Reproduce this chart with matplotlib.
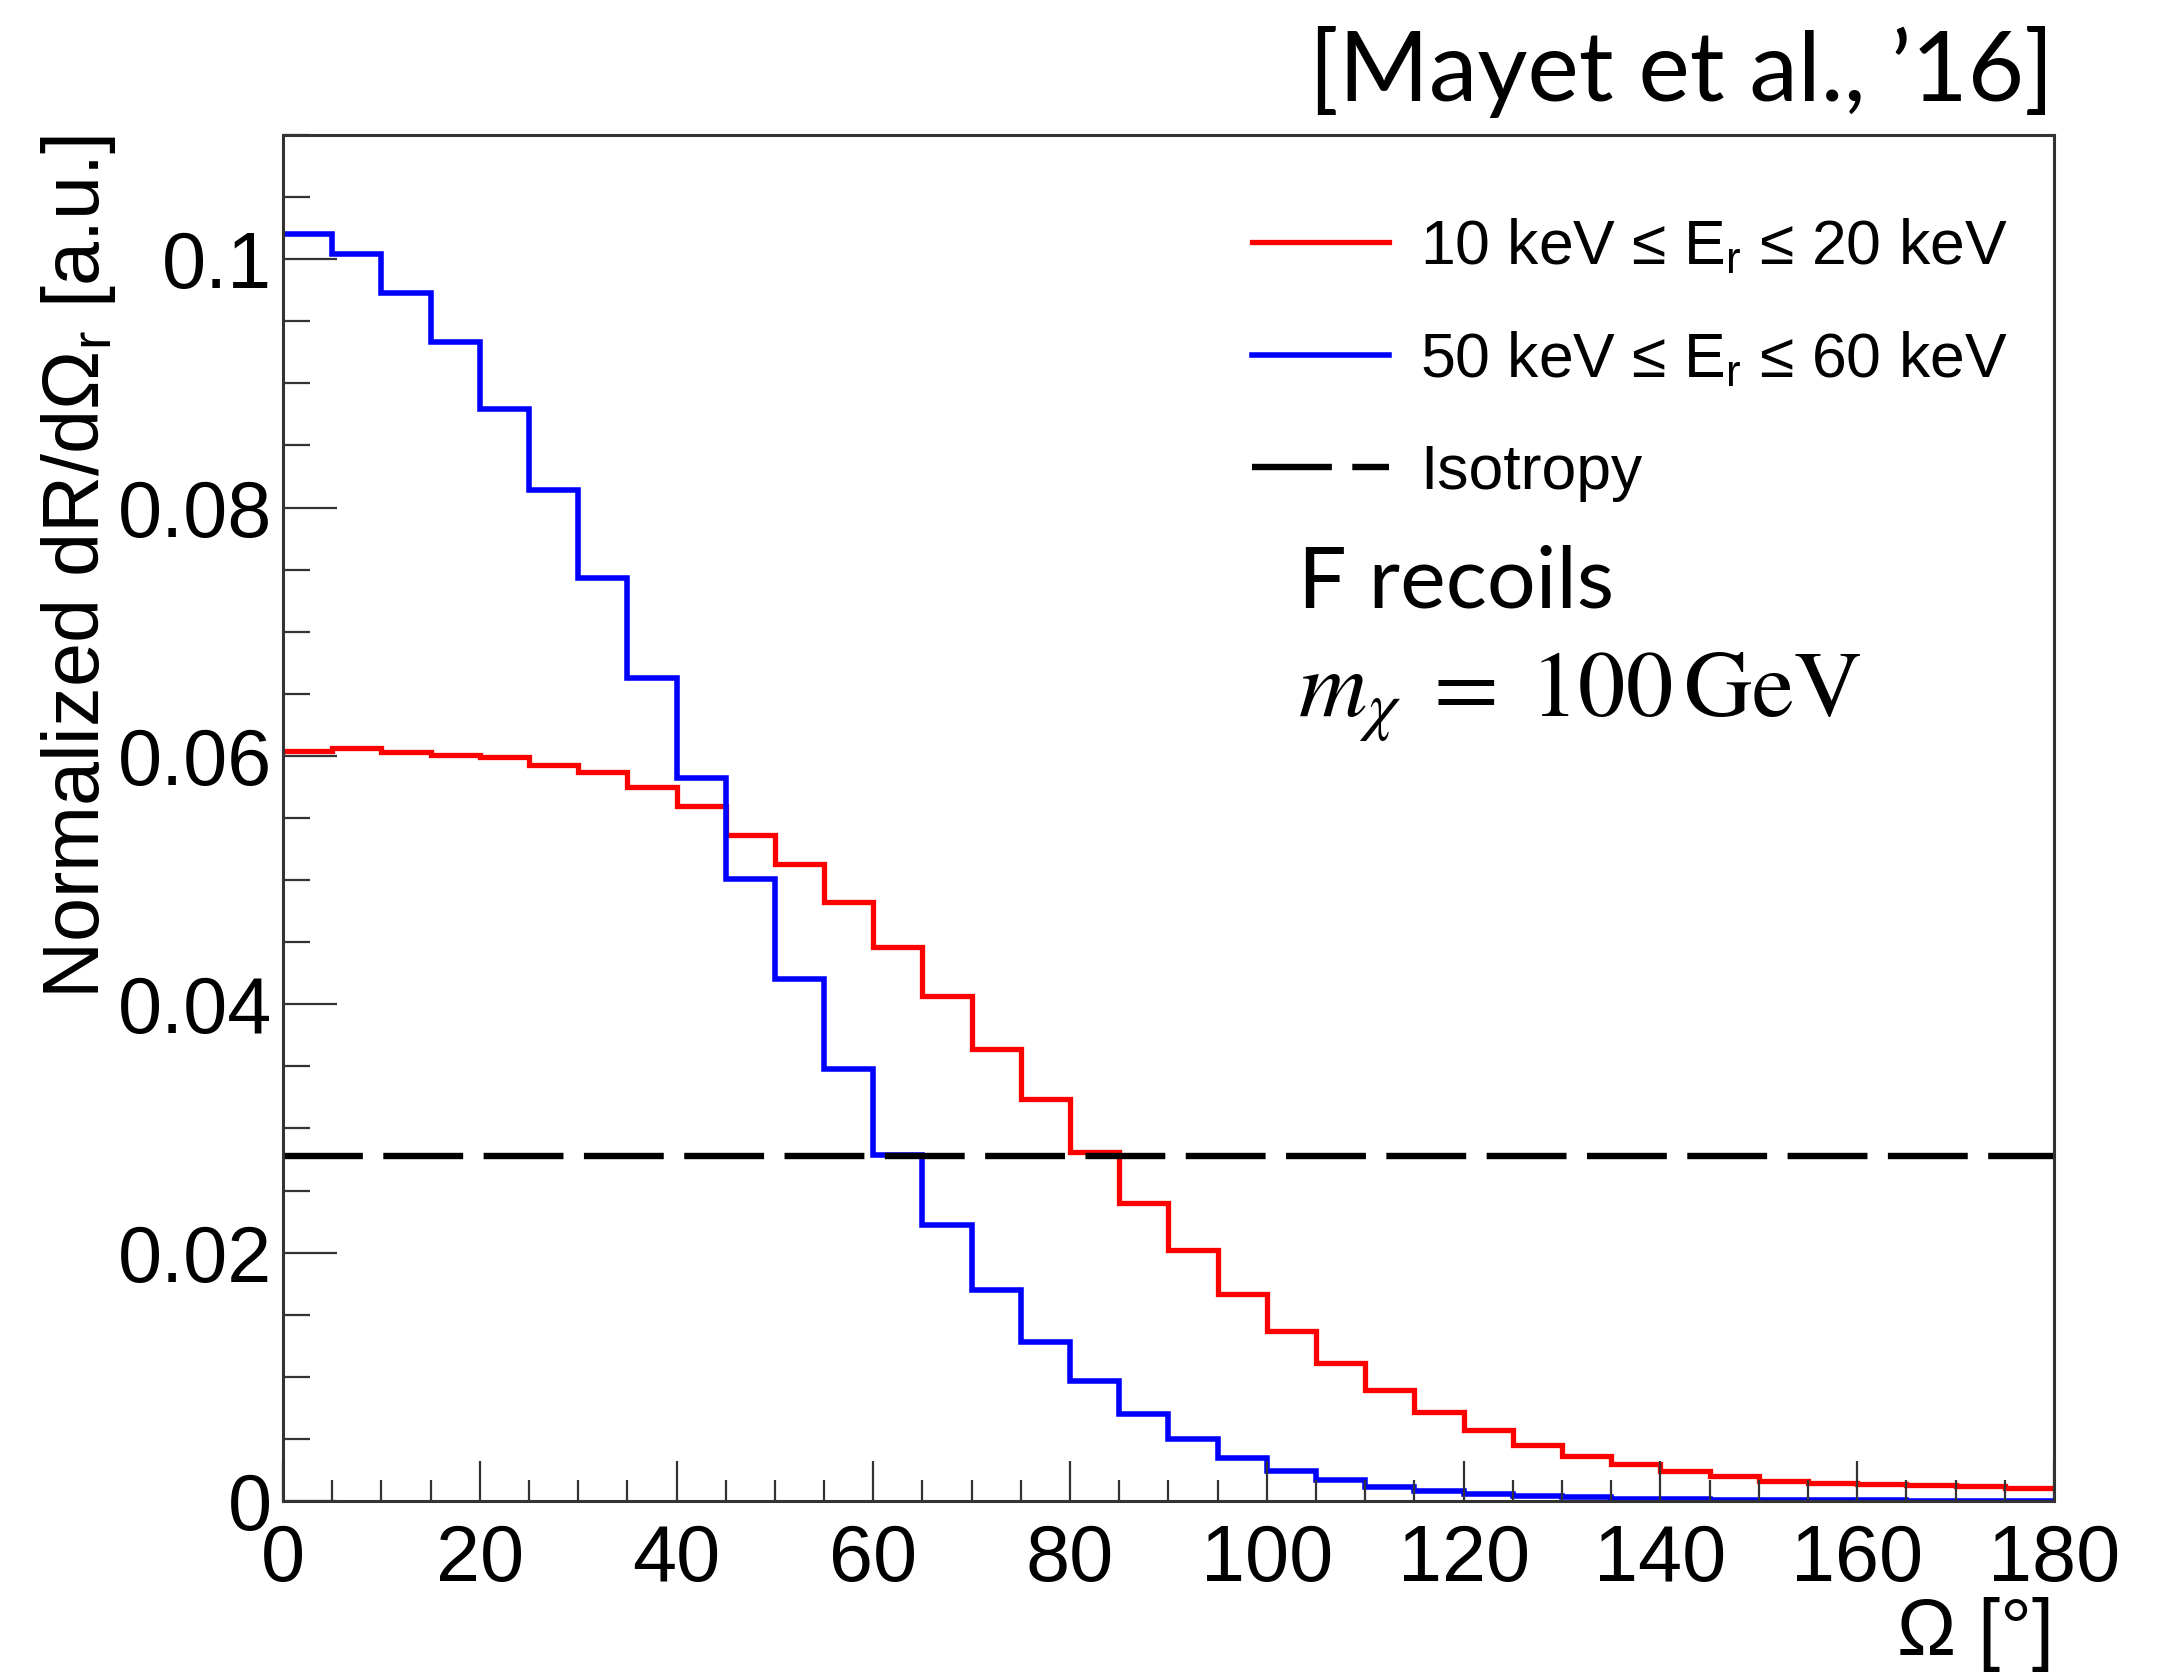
import numpy as np
import matplotlib
matplotlib.use('Agg')
import matplotlib.pyplot as plt
from matplotlib.ticker import MultipleLocator

plt.rcParams['font.family'] = ['Liberation Sans', 'DejaVu Sans']
plt.rcParams['mathtext.fontset'] = 'custom'
plt.rcParams['mathtext.rm'] = 'Liberation Sans'
plt.rcParams['mathtext.it'] = 'Liberation Sans:italic'

# 5 degree bins, 0 to 180
edges = np.arange(0, 181, 5)

red_10_20 = [0.0604, 0.0606, 0.0603, 0.0601, 0.0599, 0.0593, 0.0587, 0.0575, 0.0560,
             0.0536, 0.0513, 0.0482, 0.0446, 0.0407, 0.0364, 0.0324, 0.0281, 0.0240,
             0.0202, 0.0167, 0.0137, 0.0111, 0.0089, 0.0072, 0.0057, 0.0045, 0.0036,
             0.0030, 0.0024, 0.0020, 0.0016, 0.00145, 0.00134, 0.00126, 0.00118, 0.00107]

blue_50_60 = [0.1020, 0.1004, 0.0973, 0.0933, 0.0879, 0.0814, 0.0743, 0.0663, 0.0582,
              0.0501, 0.0420, 0.0348, 0.0279, 0.0222, 0.0170, 0.0128, 0.0097, 0.0070,
              0.0050, 0.0035, 0.0024, 0.0017, 0.0011, 0.0008, 0.0006, 0.0004, 0.0003,
              0.0002, 0.00015, 0.0001, 0.0001, 0.00007, 0.00005, 0.00004, 0.00003, 0.00003]

iso_level = 0.0278

ytick_vals = [0, 0.02, 0.04, 0.06, 0.08, 0.1]
ytick_labels = ['0', '0.02', '0.04', '0.06', '0.08', '0.1']
xtick_vals = list(range(0, 181, 20))

fig = plt.figure(figsize=(10.825, 8.365), dpi=200)
ax = fig.add_axes([0.1307, 0.1028, 0.818, 0.8165])

ax.stairs(red_10_20, edges, color='#ff0000', linewidth=1.9, baseline=None,
          label=r'10 keV ≤ E$_{\rm r}$ ≤ 20 keV')
ax.stairs(blue_50_60, edges, color='#0000ff', linewidth=2.0, baseline=None,
          label=r'50 keV ≤ E$_{\rm r}$ ≤ 60 keV')
ax.axhline(iso_level, color='black', linewidth=2.3, dashes=(12.5, 3.2), label='Isotropy')

ax.set_xlim(0, 180)
ax.set_ylim(0, 0.11)
ax.set_xticks(xtick_vals)
ax.set_xticklabels([str(v) for v in xtick_vals])
ax.set_yticks(ytick_vals)
ax.set_yticklabels(ytick_labels)
ax.xaxis.set_minor_locator(MultipleLocator(5))
ax.yaxis.set_minor_locator(MultipleLocator(0.005))

spine_col = '#333333'
for s in ax.spines.values():
    s.set_linewidth(1.1)
    s.set_color(spine_col)
ax.tick_params(which='both', direction='in', color=spine_col, width=0.8,
               labelsize=28.5, top=False, right=False)
ax.tick_params(axis='x', which='major', length=14.4, pad=8)
ax.tick_params(axis='x', which='minor', length=7.5)
ax.tick_params(axis='y', which='major', length=19.5, pad=4)
ax.tick_params(axis='y', which='minor', length=9.7)

ax.set_ylabel(r'Normalized dR/dΩ$_{\rm r}$ [a.u.]', fontsize=28.5, loc='top')
ax.yaxis.set_label_coords(-0.093, 1.0)
ax.set_xlabel('Ω [°]', fontsize=28.5, loc='right')
ax.xaxis.set_label_coords(1.0, -0.07)

ax.legend(loc='upper left', bbox_to_anchor=(0.547, 0.940), frameon=False,
          fontsize=22.5, handlelength=2.2, handletextpad=0.5, labelspacing=0.85,
          borderpad=0, borderaxespad=0)

ax.text(0.573, 0.654, 'F recoils', transform=ax.transAxes, fontsize=31,
        family='Lato', ha='left', va='baseline')
ax.text(0.573, 0.575, r'$m_\chi\;=\;100\,\mathrm{GeV}$', transform=ax.transAxes,
        fontsize=34, math_fontfamily='stix', ha='left', va='baseline')

fig.text(0.9485, 0.957, '[Mayet et al., ’16]', fontsize=35, family='Lato',
         ha='right', va='center')

fig.savefig('out.png', dpi=200)
